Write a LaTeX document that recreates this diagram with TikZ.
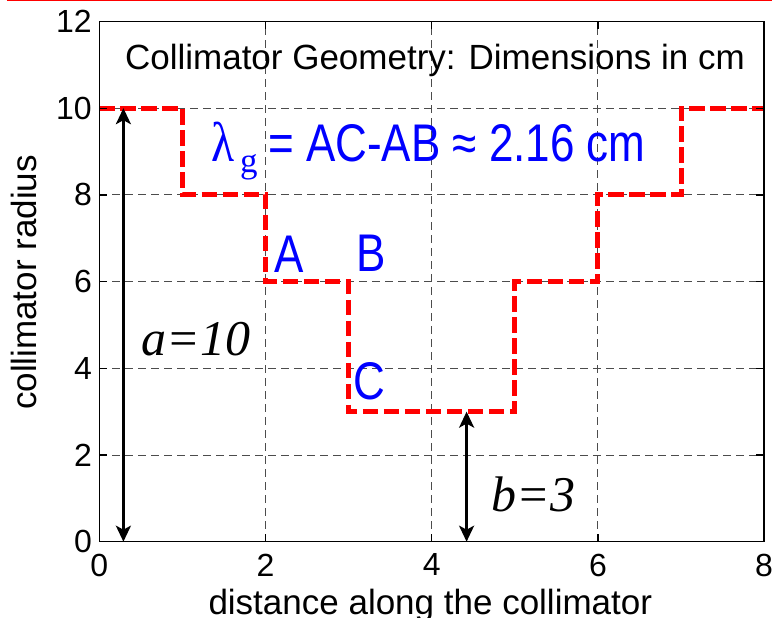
\documentclass[tikz,border=0pt]{standalone}
\usepackage{fontspec}
\setmainfont{Liberation Sans}
\newfontfamily\serifface{Liberation Serif}
\usetikzlibrary{arrows.meta}
\definecolor{mred}{RGB}{255,0,0}
\definecolor{mblue}{RGB}{0,0,255}
\tikzset{
  gridline/.style={line width=0.9pt, black!70, dash pattern=on 8pt off 5pt},
  axisline/.style={line width=1.3pt, black},
  redline/.style={line width=5pt, mred, dash pattern=on 15.5pt off 5.5pt},
  ticklab/.style={inner sep=0pt, font=\fontsize{32}{38}\selectfont},
  axlab/.style={inner sep=0pt, font=\fontsize{35}{42}\selectfont},
  bluelab/.style={inner sep=0pt, mblue, xscale=0.83, font=\fontsize{53}{60}\selectfont},
  dimlab/.style={inner sep=0pt, font=\fontsize{50}{56}\serifface\itshape},
  dimarrow/.style={line width=2.6pt, black, {Stealth[length=16pt,width=15pt,inset=4pt]}-{Stealth[length=16pt,width=15pt,inset=4pt]}}
}
\begin{document}
\begin{tikzpicture}[x=83.1pt,y=43.35pt]
\useasboundingbox (-99.3pt,-76.3pt) rectangle (672.7pt,541.7pt);
% top red border line
\coordinate (tl) at (-92.3pt,541.0pt);
\coordinate (tr) at (672.7pt,541.0pt);
\draw[mred, line width=1.5pt] (tl) -- (tr);
% grid
\foreach \x in {2,4,6} \draw[gridline] (\x,0) -- (\x,12);
\foreach \y in {2,4,6,8,10} \draw[gridline] (0,\y) -- (8,\y);
% red profile
\draw[redline] (0,10) -| (1,8) -| (2,6) -| (3,3) -| (5,6) -| (6,8) -| (7,10) -- (8,10);
% ticks and frame
\foreach \x in {2,4,6} {\draw[axisline] (\x,0) -- ++(0,8pt); \draw[axisline] (\x,12) -- ++(0,-8pt);}
\foreach \y in {2,4,6,8,10} {\draw[axisline] (0,\y) -- ++(8pt,0); \draw[axisline] (8,\y) -- ++(-8pt,0);}
\draw[axisline] (0,0) rectangle (8,12);
% tick labels
\foreach \y in {0,2,4,6,8,10,12} \node[ticklab, anchor=east] (yt\y) at ([xshift=-7.3pt]0,\y) {\y};
\foreach \x in {0,2,4,6,8} \node[ticklab, anchor=north] (xt\x) at ([yshift=-11.8pt]\x,0) {\x};
% axis labels
\node[axlab, anchor=base] (xlab) at (331pt,-73.3pt) {distance along the collimator};
\node[axlab, anchor=base, rotate=90] (ylab) at (-62.6pt,259.2pt) {collimator radius};
% title
\node[axlab, anchor=base] (title) at (335.7pt,471.7pt) {Collimator Geometry: Dimensions in cm};
% lambda expression
\node[inner sep=0pt, mblue, xscale=0.85, anchor=base west, font=\fontsize{56}{60}\serifface] (lam) at (111.7pt,380pt) {λ};
\node[inner sep=0pt, mblue, anchor=base west, font=\fontsize{35}{40}\serifface] (lamg) at (140.7pt,369.2pt) {g};
\node[bluelab, anchor=base west] (expr) at (168.7pt,380pt) {= AC-AB ≈ 2.16 cm};
% point labels
\node[bluelab, anchor=base west] (A) at (174.7pt,269pt) {A};
\node[bluelab, anchor=base west] (B) at (257.4pt,269.7pt) {B};
\node[bluelab, anchor=base west] (C) at (253.7pt,142.4pt) {C};
% dimension arrows
\coordinate (a0) at (0.29,0);
\coordinate (a10) at (0.29,10);
\coordinate (b0) at (4.42,0);
\coordinate (b3) at (4.42,3);
\draw[dimarrow] (a0) -- (a10);
\draw[dimarrow] (b0) -- (b3);
\node[dimlab, anchor=base west] (alab) at (42.4pt,185.7pt) {a=10};
\node[dimlab, anchor=base west] (blab) at (392.4pt,30pt) {b=3};
\end{tikzpicture}
\end{document}
